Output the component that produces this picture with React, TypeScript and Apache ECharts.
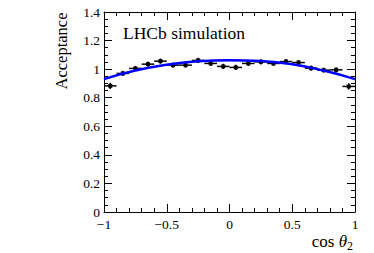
import React, { useEffect, useRef } from "react";
import * as echarts from "echarts";

const binCenters = [-0.95, -0.85, -0.75, -0.65, -0.55, -0.45, -0.35, -0.25, -0.15, -0.05, 0.05, 0.15, 0.25, 0.35, 0.45, 0.55, 0.65, 0.75, 0.85, 0.95];
const acceptance = [0.883, 0.97, 1.005, 1.035, 1.056, 1.028, 1.028, 1.061, 1.04, 1.019, 1.012, 1.04, 1.051, 1.04, 1.053, 1.046, 1.007, 0.993, 0.995, 0.879];
const acceptanceErr = [0.022, 0.018, 0.018, 0.018, 0.018, 0.018, 0.018, 0.018, 0.018, 0.018, 0.018, 0.018, 0.018, 0.018, 0.018, 0.018, 0.018, 0.018, 0.018, 0.022];
const binHalfWidth = 0.05;

const fitX = [-1, -0.75, -0.5, -0.25, 0, 0.25, 0.5, 0.75, 1];
const fitY = [0.93, 0.99, 1.03, 1.055, 1.063, 1.057, 1.034, 0.99, 0.93];

const xTicks = [-1, -0.5, 0, 0.5, 1];
const xTickLabels = ["\u22121", "\u22120.5", "0", "0.5", "1"];

const FONT = "Liberation Serif";

export default function App() {
  const ref = useRef<HTMLDivElement>(null);
  useEffect(() => {
    const chart = echarts.init(ref.current!, null, { renderer: "svg" });
    const axisCommon = {
      type: "value" as const,
      axisLine: { show: true, onZero: false, lineStyle: { color: "#000", width: 1 } },
      splitLine: { show: false },
      minorSplitLine: { show: false },
    };
    chart.setOption({
      animation: false,
      backgroundColor: "#fff",
      grid: { left: 104, right: 19, top: 12, bottom: 41 },
      xAxis: [
        {
          ...axisCommon,
          min: -1, max: 1, interval: 0.5, position: "bottom",
          axisTick: { show: true, inside: true, length: 8, lineStyle: { color: "#000" } },
          minorTick: { show: true, splitNumber: 5, length: 4, lineStyle: { color: "#000" } },
          axisLabel: {
            show: true, margin: 5, color: "#000", fontFamily: FONT, fontSize: 13.5,
            formatter: (v: number) => {
              const i = xTicks.findIndex((t) => Math.abs(t - v) < 1e-6);
              return i >= 0 ? xTickLabels[i] : "";
            },
          },
        },
        {
          ...axisCommon,
          min: -1, max: 1, interval: 0.5, position: "top",
          axisTick: { show: true, inside: true, length: 8, lineStyle: { color: "#000" } },
          minorTick: { show: true, splitNumber: 5, length: 4, lineStyle: { color: "#000" } },
          axisLabel: { show: false },
        },
      ],
      yAxis: [
        {
          ...axisCommon,
          min: 0, max: 1.4, interval: 0.2, position: "left",
          axisTick: { show: true, inside: true, length: 8, lineStyle: { color: "#000" } },
          minorTick: { show: true, splitNumber: 4, length: 4, lineStyle: { color: "#000" } },
          axisLabel: {
            show: true, margin: 4, color: "#000", fontFamily: FONT, fontSize: 13.5,
            formatter: (v: number) => String(Math.round(v * 10) / 10),
          },
        },
        {
          ...axisCommon,
          min: 0, max: 1.4, interval: 0.2, position: "right",
          axisTick: { show: true, inside: true, length: 8, lineStyle: { color: "#000" } },
          minorTick: { show: true, splitNumber: 4, length: 4, lineStyle: { color: "#000" } },
          axisLabel: { show: false },
        },
      ],
      series: [
        {
          type: "custom",
          xAxisIndex: 0,
          yAxisIndex: 0,
          data: binCenters.map((x, i) => [x, acceptance[i], acceptanceErr[i]]),
          renderItem: (params: any, api: any) => {
            const x = api.value(0);
            const y = api.value(1);
            const e = api.value(2);
            const l = api.coord([x - binHalfWidth, y]);
            const r = api.coord([x + binHalfWidth, y]);
            const t = api.coord([x, y + e]);
            const b = api.coord([x, y - e]);
            const c = api.coord([x, y]);
            const st = { stroke: "#000", lineWidth: 1.5 };
            return {
              type: "group",
              children: [
                { type: "line", shape: { x1: l[0], y1: l[1], x2: r[0], y2: r[1] }, style: st },
                { type: "line", shape: { x1: t[0], y1: t[1], x2: b[0], y2: b[1] }, style: st },
                { type: "rect", shape: { x: c[0] - 2, y: c[1] - 2, width: 4, height: 4 }, style: { fill: "#000" } },
              ],
            };
          },
          z: 2,
        },
        {
          type: "line",
          xAxisIndex: 0,
          yAxisIndex: 0,
          data: fitX.map((x, i) => [x, fitY[i]]),
          smooth: true,
          showSymbol: false,
          symbol: "none",
          lineStyle: { color: "#0000ff", width: 2.5 },
          clip: true,
          z: 3,
        },
      ],
      graphic: [
        {
          type: "text", x: 123, y: 24,
          style: {
            text: "{a|LHCb simulation}",
            rich: { a: { fontFamily: FONT, fontSize: 17.5, color: "#000" } },
          },
        },
        {
          type: "text", x: 61, y: 51, rotation: Math.PI / 2,
          style: {
            text: "{a|Acceptance}", align: "center", verticalAlign: "middle",
            rich: { a: { fontFamily: FONT, fontSize: 16.5, color: "#000" } },
          },
        },
        {
          type: "text", x: 347, y: 250,
          style: {
            text: "{n|cos }{i|\u03b8}",
            align: "right",
            verticalAlign: "bottom",
            rich: {
              n: { fontFamily: FONT, fontSize: 17, color: "#000" },
              i: { fontFamily: FONT, fontSize: 17, fontStyle: "italic", color: "#000" },
            },
          },
        },
        {
          type: "text", x: 347, y: 252,
          style: {
            text: "{s|2}",
            align: "left",
            verticalAlign: "bottom",
            rich: { s: { fontFamily: FONT, fontSize: 12, color: "#000" } },
          },
        },
      ],
    });
    return () => chart.dispose();
  }, []);
  return <div ref={ref} style={{ position: "fixed", left: 0, top: 0, width: 374, height: 253 }} />;
}
